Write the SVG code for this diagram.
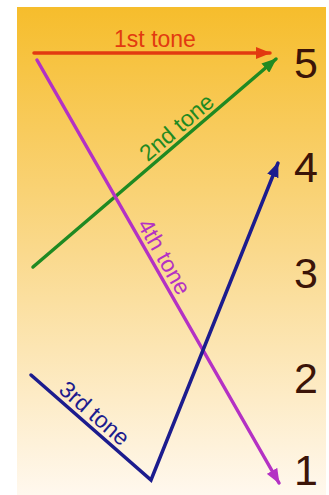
<svg xmlns="http://www.w3.org/2000/svg" width="329" height="495" viewBox="0 0 329 495">
<defs>
<linearGradient id="bg" x1="0" y1="0" x2="0" y2="1">
<stop offset="0" stop-color="#f6bd2c"/>
<stop offset="0.5" stop-color="#fad98c"/>
<stop offset="1" stop-color="#fff8ee"/>
</linearGradient>
<marker id="ar" viewBox="0 0 15 12" refX="14" refY="6" markerWidth="15" markerHeight="12" markerUnits="userSpaceOnUse" orient="auto">
<path d="M0,0 L15,6 L0,12 z" fill="#e23a10"/>
</marker>
<marker id="ag" viewBox="0 0 15 12" refX="14" refY="6" markerWidth="15" markerHeight="12" markerUnits="userSpaceOnUse" orient="auto">
<path d="M0,0 L15,6 L0,12 z" fill="#1f8a22"/>
</marker>
<marker id="ap" viewBox="0 0 15 12" refX="14" refY="6" markerWidth="15" markerHeight="12" markerUnits="userSpaceOnUse" orient="auto">
<path d="M0,0 L15,6 L0,12 z" fill="#b431c4"/>
</marker>
<marker id="ab" viewBox="0 0 15 12" refX="14" refY="6" markerWidth="15" markerHeight="12" markerUnits="userSpaceOnUse" orient="auto">
<path d="M0,0 L15,6 L0,12 z" fill="#1c1c8e"/>
</marker>
</defs>
<style>
.ln{fill:none;stroke-width:3.5;stroke-linecap:round;stroke-linejoin:miter}
.lb{font-family:"Liberation Sans",Arial,sans-serif;font-size:23px;text-anchor:middle}
.num{font-family:"Liberation Sans",Arial,sans-serif;font-size:43px;fill:#3b1408}
</style>
<rect x="17" y="7" width="309" height="488" fill="url(#bg)"/>
<g id="levels">
<text class="num" x="294" y="78">5</text>
<text class="num" x="294" y="182">4</text>
<text class="num" x="294" y="288">3</text>
<text class="num" x="294" y="393">2</text>
<text class="num" x="294" y="485">1</text>
</g>
<g id="connectors">
<line id="tone1" class="ln" x1="34" y1="53" x2="270" y2="53" stroke="#e23a10" marker-end="url(#ar)"/>
<line id="tone2" class="ln" x1="33" y1="267" x2="276" y2="59" stroke="#1f8a22" marker-end="url(#ag)"/>
<line id="tone4" class="ln" x1="37" y1="60" x2="279" y2="483" stroke="#b431c4" marker-end="url(#ap)"/>
<polyline id="tone3" class="ln" points="31,375 151,480 278,163" stroke="#1c1c8e" marker-end="url(#ab)"/>
</g>
<g id="labels">
<text class="lb" x="155" y="47" fill="#e23a10">1st tone</text>
<text class="lb" transform="translate(185,137) rotate(-40.6)" x="0" y="-5" fill="#1f8a22">2nd tone</text>
<text class="lb" transform="translate(153,263) rotate(60.2)" x="0" y="-5" fill="#b431c4">4th tone</text>
<text class="lb" transform="translate(86,423) rotate(41.2)" x="0" y="-5" fill="#1c1c8e">3rd tone</text>
</g>
</svg>
